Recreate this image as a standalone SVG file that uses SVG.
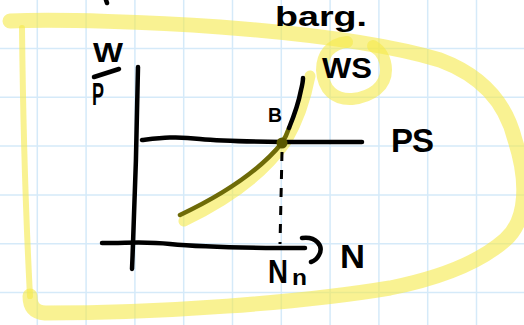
<svg xmlns="http://www.w3.org/2000/svg" width="524" height="325" viewBox="0 0 524 325">
<style>
.grid{stroke:#d5eaf9;stroke-width:1.5;fill:none}
.hl{fill:none;stroke:#f5e94a;stroke-opacity:0.6;stroke-linecap:round;stroke-linejoin:round}
.ink{fill:none;stroke:#000;stroke-width:4.5;stroke-linecap:round;stroke-linejoin:round}
.t{font-family:"Liberation Sans",Arial,sans-serif;font-weight:bold;fill:#000}
</style>
<rect width="524" height="325" fill="#fff"/>
<g id="grid" class="grid">
<path d="M37.3 0V325M86.1 0V325M134.9 0V325M183.7 0V325M232.5 0V325M281.3 0V325M330.1 0V325M378.9 0V325M427.7 0V325M476.5 0V325"/>
<path d="M0 48.5H524M0 97.3H524M0 146.1H524M0 194.9H524M0 243.7H524M0 292.5H524"/>
</g>
<g id="highlights">
<path class="hl" stroke-width="15" stroke-linecap="butt" d="M10 21 C60 19 150 22 220 27 C300 33 380 42 440 60 C480 75 505 100 515 140 C528 180 528 220 505 240 C480 262 440 278 390 288 C300 303 160 313 45 313 C33 312 30 305 30 296"/>
<path class="hl" stroke-width="6" d="M22 28 C23 120 26 220 30 296"/>
<path class="hl" stroke-width="12" d="M347 42 C330 44 322 55 322 70 C323 90 335 100 352 99 C372 97 386 86 386 70 C386 58 380 50 373 46"/>
<path class="hl" stroke-width="11" d="M184 221 Q255 187 286 142 Q303 113 310 76"/>
</g>
<g id="axes">
<path class="ink" d="M138 67 C137 130 135 200 132 269"/>
<path class="ink" d="M102 243 C130 243 145 241 170 244 C210 248 260 248 305 248"/>
<path id="axis-hook" class="ink" stroke-width="4" d="M302 238 C316 236 324 246 319 255 C317 259 314 261 311 262"/>
</g>
<g id="connectors">
<path id="ps-curve" class="ink" d="M142 140 C160 138 175 136 200 139 C240 143 300 142 362 142"/>
<path id="ws-lower" fill="none" stroke="#6e6b08" stroke-width="4.5" stroke-linecap="round" d="M180 215 Q250 182 282 143 Q286 137 289 128"/>
<path id="ws-upper" class="ink" d="M289 128 Q298 106 301 90 Q303 82 303 78"/>
<path id="nn-dash" fill="none" stroke="#000" stroke-width="3" stroke-dasharray="9 9" d="M282 152 L280 244"/>
</g>
<g id="node-B">
<circle cx="282" cy="143" r="5.5" fill="#5a5800"/>
<text class="t" x="268" y="122" font-size="21" textLength="14" lengthAdjust="spacingAndGlyphs">B</text>
</g>
<g id="labels">
<text class="t" x="275" y="26" font-size="27" textLength="92" lengthAdjust="spacingAndGlyphs">barg.</text>
<path class="ink" stroke-width="2" d="M106 0 L107 3"/>
<text class="t" x="93" y="62" font-size="28" textLength="30" lengthAdjust="spacingAndGlyphs">W</text>
<path class="ink" stroke-width="4" d="M94 77 L119 69"/>
<text class="t" x="92" y="105" font-size="32" textLength="12" lengthAdjust="spacingAndGlyphs">P</text>
<text class="t" x="322" y="78" font-size="29" textLength="50" lengthAdjust="spacingAndGlyphs">WS</text>
<text class="t" x="391" y="152" font-size="33" textLength="43">PS</text>
<text class="t" x="340" y="268" font-size="34" textLength="25" lengthAdjust="spacingAndGlyphs">N</text>
<text class="t" y="283" font-size="34"><tspan x="268" textLength="20" lengthAdjust="spacingAndGlyphs">N</tspan><tspan x="292" y="285" font-size="22" textLength="15" lengthAdjust="spacingAndGlyphs">n</tspan></text>
</g>
</svg>
